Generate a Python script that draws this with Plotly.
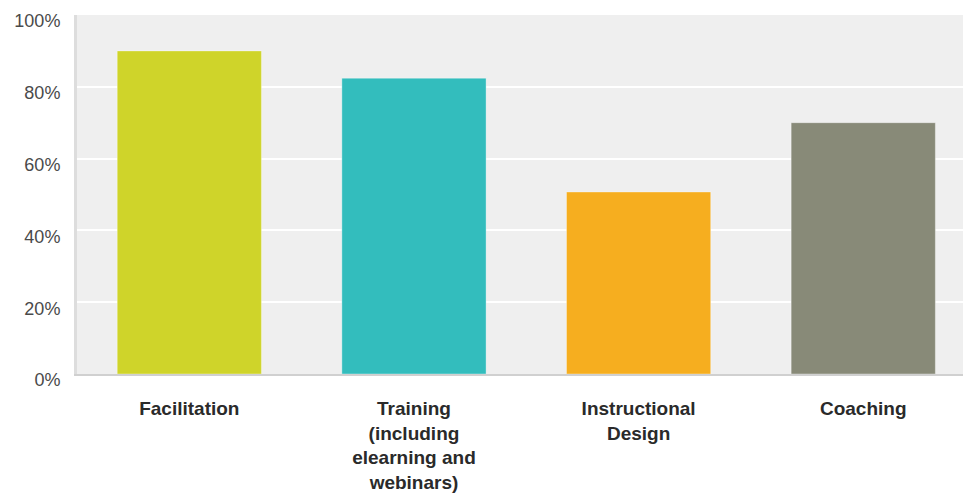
import plotly.graph_objects as go

# Share of respondents per activity
categories = ["Facilitation", "Training (including elearning and webinars)",
              "Instructional Design", "Coaching"]
tick_labels = ["Facilitation", "Training<br>(including<br>elearning and<br>webinars)",
               "Instructional<br>Design", "Coaching"]
values = [90, 82.4, 50.7, 70]
colors = ["#cfd42a", "#33bdbd", "#f6ae1f", "#888a78"]

y_ticks = [0, 20, 40, 60, 80, 100]
y_tick_labels = ["0%", "20%", "40%", "60%", "80%", "100%"]

fig = go.Figure(
    go.Bar(
        x=list(range(len(categories))),
        y=values,
        width=0.642,
        marker=dict(color=colors, line=dict(color="rgba(255,255,255,0.35)", width=1)),
        hovertext=categories,
        hoverinfo="text+y",
    )
)

fig.update_layout(
    width=963,
    height=493,
    margin=dict(l=77, r=0, t=15, b=119, autoexpand=False),
    paper_bgcolor="white",
    plot_bgcolor="#efefef",
    showlegend=False,
    font=dict(family="Liberation Sans, Arial, sans-serif"),
)

fig.update_xaxes(
    automargin=False,
    range=[-0.5, 3.444],
    tickmode="array",
    tickvals=list(range(len(categories))),
    ticktext=tick_labels,
    tickfont=dict(size=19, color="#2a2a2a", family="Liberation Sans, Arial, sans-serif", weight="bold"),
    ticks="",
    ticklabelstandoff=16,
    showgrid=False,
    zeroline=False,
    showline=True,
    linecolor="#d0d0d0",
    linewidth=2,
)

fig.update_yaxes(
    automargin=False,
    range=[0, 100],
    tickmode="array",
    tickvals=y_ticks,
    ticktext=y_tick_labels,
    tickfont=dict(size=18, color="#4a4a4a"),
    ticks="",
    ticklabelstandoff=10,
    ticklabelshift=6,
    ticklabeloverflow="allow",
    showgrid=True,
    gridcolor="white",
    gridwidth=2,
    zeroline=False,
    showline=True,
    linecolor="#dddddd",
    linewidth=3,
)

fig.write_html("out.html")
